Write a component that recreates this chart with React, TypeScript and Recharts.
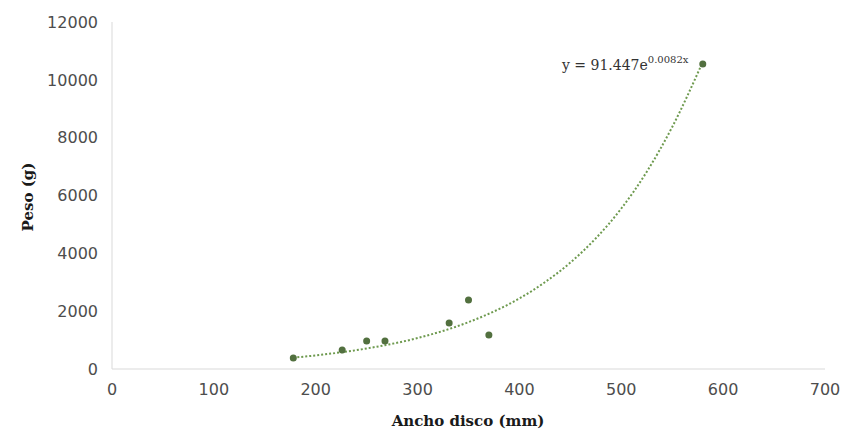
import React from "react";
import { ComposedChart, Scatter, Line, XAxis, YAxis } from "recharts";

const anchoDisco = [178, 226, 250, 268, 331, 350, 370, 580];
const peso = [380, 660, 965, 965, 1590, 2385, 1175, 10550];

const trendX = [178, 200, 250, 300, 350, 375, 400, 425, 450, 475, 500, 525, 550, 580];
const trendY = [393, 470, 710, 1070, 1620, 1990, 2440, 3000, 3680, 4520, 5550, 6820, 8370, 10620];

const xTicks = [0, 100, 200, 300, 400, 500, 600, 700];
const yTicks = [0, 2000, 4000, 6000, 8000, 10000, 12000];

const points = anchoDisco.map((x, i) => ({ x, y: peso[i] }));
const trend = trendX.map((x, i) => ({ x, t: trendY[i] }));

const tickStyle = { fill: "#4d4d4d", fontSize: 16, fontFamily: "DejaVu Sans" };

export default function App() {
  return (
    <div style={{ position: "absolute", left: 0, top: 0, width: 844, height: 432, background: "#fff" }}>
      <ComposedChart
        width={844}
        height={432}
        margin={{ top: 22, right: 19, bottom: 33, left: 48 }}
      >
        <XAxis
          type="number"
          dataKey="x"
          domain={[0, 700]}
          ticks={xTicks}
          tickLine={false}
          tickSize={0}
          tickMargin={15}
          axisLine={{ stroke: "#d9d9d9" }}
          tick={tickStyle}
          height={30}
          allowDuplicatedCategory={false}
        />
        <YAxis
          type="number"
          domain={[0, 12000]}
          ticks={yTicks}
          tickLine={false}
          tickSize={0}
          tickMargin={14}
          axisLine={{ stroke: "#d9d9d9" }}
          tick={tickStyle}
          width={64}
        />
        <Line
          data={trend}
          dataKey="t"
          type="monotone"
          stroke="#6e9a4f"
          strokeWidth={2}
          strokeDasharray="2 2"
          dot={false}
          activeDot={false}
          isAnimationActive={false}
        />
        <Scatter
          data={points}
          dataKey="y"
          fill="#52703f"
          shape={(p: any) => <circle cx={p.cx} cy={p.cy} r={3.5} fill="#52703f" />}
          isAnimationActive={false}
        />
        <text
          x={468}
          y={426}
          textAnchor="middle"
          fontFamily="DejaVu Serif"
          fontWeight="bold"
          fontSize={15}
          fill="#1a1a1a"
        >
          Ancho disco (mm)
        </text>
        <text
          x={33}
          y={197}
          transform="rotate(-90 33 197)"
          textAnchor="middle"
          fontFamily="DejaVu Serif"
          fontWeight="bold"
          fontSize={15}
          fill="#1a1a1a"
        >
          Peso (g)
        </text>
        <text x={562} y={70} fontFamily="DejaVu Serif" fontSize={14} fill="#333333">
          y = 91.447e
          <tspan fontSize={10} dy={-7}>
            0.0082x
          </tspan>
        </text>
      </ComposedChart>
    </div>
  );
}
